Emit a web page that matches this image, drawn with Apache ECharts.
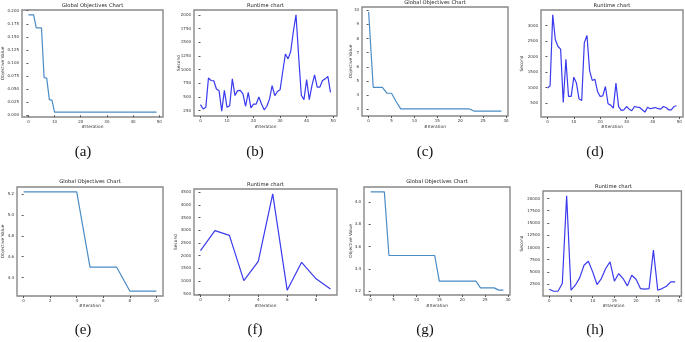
<!DOCTYPE html>
<html>
<head>
    <meta charset="utf-8" />
    <title>Global Objectives / Runtime</title>
    <script src="https://cdn.jsdelivr.net/npm/echarts@6/dist/echarts.min.js"></script>
    <style>
        body { margin: 0; background: #fff; }
    </style>
</head>
<body>
    <div id="main" style="width: 685px;height:342px;"></div>
    <script type="text/javascript">
        var myChart = echarts.init(document.getElementById('main'));

        // values per iteration
        const objA = [0.192, 0.192, 0.192, 0.167, 0.167, 0.167, 0.072, 0.071, 0.030, 0.029,
            0.006, 0.006, 0.006, 0.006, 0.006, 0.006, 0.006, 0.006, 0.006, 0.006,
            0.006, 0.006, 0.006, 0.006, 0.006, 0.006, 0.006, 0.006, 0.006, 0.006,
            0.006, 0.006, 0.006, 0.006, 0.006, 0.006, 0.006, 0.006, 0.006, 0.006,
            0.006, 0.006, 0.006, 0.006, 0.006, 0.006, 0.006, 0.006, 0.006, 0.006];
        const runB = [360, 280, 310, 845, 800, 795, 645, 615, 240, 620,
            310, 340, 830, 525, 615, 620, 555, 330, 585, 300,
            370, 370, 500, 370, 265, 330, 460, 705, 525, 600,
            630, 965, 1285, 1195, 1330, 1695, 2000, 1240, 530, 450,
            815, 450, 705, 905, 680, 680, 800, 830, 875, 585];
        const objC = [9.88, 4.55, 4.55, 4.55, 4.13, 4.13, 3.55, 3.02, 3.02, 3.02,
            3.02, 3.02, 3.02, 3.02, 3.02, 3.02, 3.02, 3.02, 3.02, 3.02,
            3.02, 3.02, 3.02, 2.87, 2.87, 2.87, 2.87, 2.87, 2.87, 2.87];
        const runD = [983, 1058, 3343, 2540, 2325, 2240, 520, 1915, 715, 715,
            1335, 1145, 630, 585, 2450, 2680, 1550, 1230, 1270, 875,
            715, 735, 1035, 480, 435, 340, 1145, 390, 265, 285,
            390, 305, 255, 390, 370, 360, 285, 210, 370, 320,
            340, 360, 320, 305, 390, 360, 285, 285, 390, 415];
        const objE = [5.22, 5.22, 5.22, 5.22, 5.22, 4.50, 4.50, 4.50, 4.27, 4.27, 4.27];
        const runF = [2200, 2985, 2800, 1020, 1780, 4435, 645, 1740, 1090, 695];
        const objG = [4.09, 4.09, 4.09, 4.09, 3.52, 3.52, 3.52, 3.52, 3.52, 3.52,
            3.52, 3.52, 3.52, 3.52, 3.52, 3.29, 3.29, 3.29, 3.29, 3.29,
            3.29, 3.29, 3.29, 3.29, 3.23, 3.23, 3.23, 3.23, 3.21, 3.21];
        const runH = [1480, 1070, 1070, 2640, 20550, 1275, 2300, 3790, 6380, 7200,
            5020, 2430, 3660, 5700, 7060, 3110, 4680, 3660, 2160, 4340,
            3520, 1610, 1480, 1610, 9450, 1275, 1610, 2090, 2980, 2980];

        // tick labels
        const xTicks50 = [0, 10, 20, 30, 40, 50];
        const xTicks30 = [0, 5, 10, 15, 20, 25, 30];
        const xTicksE = [0, 2, 4, 6, 8, 10];
        const xTicksF = [0, 2, 4, 6, 8];
        const yTicksA = [0, 0.025, 0.05, 0.075, 0.1, 0.125, 0.15, 0.175, 0.2];
        const yTicksB = [250, 500, 750, 1000, 1250, 1500, 1750, 2000];
        const yTicksC = [3, 4, 5, 6, 7, 8, 9, 10];
        const yTicksD = [500, 1000, 1500, 2000, 2500, 3000];
        const yTicksE = [4.4, 4.6, 4.8, 5.0, 5.2];
        const yTicksF = [500, 1000, 1500, 2000, 2500, 3000, 3500, 4000, 4500];
        const yTicksG = [3.2, 3.4, 3.6, 3.8, 4.0];
        const yTicksH = [2500, 5000, 7500, 10000, 12500, 15000, 17500, 20000];

        const OBJ = '#4a8cc6';
        const RUN = '#3a3aee';
        const objTitle = 'Global Objectives Chart';
        const runTitle = 'Runtime chart';

        // grid = [left, top, width, height]
        const panels = [
            { data: objA, grid: [22, 10, 141, 107], x: [-2.45, 51.45], y: [-0.0033, 0.2013], xt: xTicks50, yt: yTicksA, dec: 3, color: OBJ, title: objTitle, ty: 6, yName: 'Objective Value', yx: 3, cap: '(a)', cy: 152 },
            { data: runB, grid: [194, 10, 143, 106], x: [-2.45, 51.45], y: [152, 2088], xt: xTicks50, yt: yTicksB, dec: 0, color: RUN, title: runTitle, ty: 6, yName: 'Second', yx: 179, cap: '(b)', cy: 152 },
            { data: objC, grid: [362, 7, 146, 109], x: [-1.45, 30.45], y: [2.52, 10.23], xt: xTicks30, yt: yTicksC, dec: 0, color: OBJ, title: objTitle, ty: 3, yName: 'Objective Value', yx: 351, cap: '(c)', cy: 152 },
            { data: runD, grid: [541, 10, 142, 107], x: [-2.45, 51.45], y: [53, 3500], xt: xTicks50, yt: yTicksD, dec: 0, color: RUN, title: runTitle, ty: 6, yName: 'Second', yx: 522, cap: '(d)', cy: 152 },
            { data: objE, grid: [17, 187, 146, 109], x: [-0.5, 10.5], y: [4.2225, 5.2675], xt: xTicksE, yt: yTicksE, dec: 1, color: OBJ, title: objTitle, ty: 182, yName: 'Objective Value', yx: 3, cap: '(e)', cy: 330 },
            { data: runF, grid: [194, 189, 143, 106], x: [-0.45, 9.45], y: [455, 4625], xt: xTicksF, yt: yTicksF, dec: 0, color: RUN, title: runTitle, ty: 185, yName: 'Second', yx: 176, cap: '(f)', cy: 330 },
            { data: objG, grid: [364, 187, 146, 108], x: [-1.45, 30.45], y: [3.166, 4.134], xt: xTicks30, yt: yTicksG, dec: 1, color: OBJ, title: objTitle, ty: 182, yName: 'Objective Value', yx: 351, cap: '(g)', cy: 330 },
            { data: runH, grid: [543, 191, 141, 105], x: [-1.45, 30.45], y: [96, 21524], xt: xTicks30, yt: yTicksH, dec: 0, color: RUN, title: runTitle, ty: 187, yName: 'Second', yx: 522, cap: '(h)', cy: 330 }
        ];

        const capX = [83, 255, 425, 595];
        const tickFont = { fontSize: 4, color: '#333', fontFamily: 'DejaVu Sans' };

        var grids = [], xAxes = [], yAxes = [], series = [], graphics = [];
        panels.forEach(function (p, i) {
            const g = p.grid;
            const cx = g[0] + g[2] / 2;
            grids.push({ left: g[0], top: g[1], width: g[2], height: g[3], show: true, borderColor: '#888', borderWidth: 1.4, containLabel: false });
            xAxes.push({
                type: 'value', gridIndex: i, min: p.x[0], max: p.x[1],
                splitLine: { show: false }, axisLine: { show: false },
                axisTick: { show: true, length: 2, lineStyle: { color: '#555' }, customValues: p.xt },
                axisLabel: Object.assign({ margin: 3, customValues: p.xt, formatter: function (v) { return String(v); } }, tickFont)
            });
            yAxes.push({
                type: 'value', gridIndex: i, min: p.y[0], max: p.y[1],
                splitLine: { show: false }, axisLine: { show: false },
                axisTick: { show: true, length: 2, lineStyle: { color: '#555' }, customValues: p.yt },
                axisLabel: Object.assign({ margin: 3, customValues: p.yt, formatter: function (v) { return v.toFixed(p.dec); } }, tickFont)
            });
            series.push({
                type: 'line', xAxisIndex: i, yAxisIndex: i, showSymbol: false, silent: true,
                lineStyle: { color: p.color, width: 1.2 },
                data: p.data.map(function (v, k) { return [k, v]; })
            });
            graphics.push({ type: 'text', x: cx, y: p.ty, style: { text: p.title, font: '5.2px "DejaVu Sans"', fill: '#222', align: 'center', verticalAlign: 'middle' } });
            graphics.push({ type: 'text', x: cx, y: g[1] <= 10 ? 127 : 306, style: { text: '#Iteration', font: '4.3px "DejaVu Sans"', fill: '#333', align: 'center', verticalAlign: 'middle' } });
            graphics.push({ type: 'text', x: p.yx, y: g[1] + g[3] / 2, rotation: Math.PI / 2, style: { text: p.yName, font: '4.3px "DejaVu Sans"', fill: '#333', align: 'center', verticalAlign: 'middle' } });
            graphics.push({ type: 'text', x: capX[i % 4], y: p.cy, style: { text: p.cap, font: '15px "Liberation Serif"', fill: '#111', align: 'center', verticalAlign: 'middle' } });
        });

        var option = {
            backgroundColor: '#fff',
            animation: false,
            grid: grids,
            xAxis: xAxes,
            yAxis: yAxes,
            series: series,
            graphic: graphics
        };

        myChart.setOption(option);
    </script>
</body>
</html>
